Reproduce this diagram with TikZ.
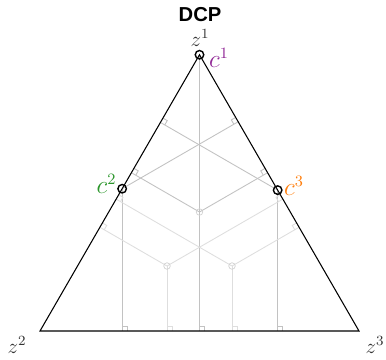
\documentclass[tikz,border=0pt]{standalone}
\usepackage{amsmath,amssymb}
\usepackage{fontspec}
\newfontfamily\headfont{Liberation Sans}
\usetikzlibrary{calc, angles}
\usepackage{xcolor}
\definecolor{cpurple}{RGB}{145,40,150}
\definecolor{cgreen}{RGB}{44,150,44}
\definecolor{corange}{RGB}{255,127,14}

\begin{document}
\begin{tikzpicture}[
  side/.style={draw=black, line width=0.6pt},
  proj/.style={draw=black!24, line width=0.5pt},
  projlight/.style={draw=black!13, line width=0.5pt},
  cpoint/.style={circle, draw=black, line width=0.8pt, inner sep=0pt, minimum size=1.7mm},
  gpoint/.style={circle, draw=black!18, line width=0.4pt, inner sep=0pt, minimum size=1.3mm},
  vlabel/.style={text=black!80, font=\large},
  clabel/.style={font=\fontsize{13.5}{15}\selectfont},
]
\useasboundingbox (-0.8,-0.56) rectangle (6.92,6.62);

\coordinate (z1) at (3.19,5.525);
\coordinate (z2) at (0,0);
\coordinate (z3) at (6.38,0);
\coordinate (c1) at (z1);
\coordinate (c2) at ($(z2)!0.515!(z1)$);
\coordinate (c3) at ($(z3)!0.51!(z1)$);
\coordinate (p0) at (3.19,2.38);
\coordinate (p1) at (2.54,1.30);
\coordinate (p2) at (3.84,1.30);

\foreach \p/\s in {c1/proj, c2/proj, c3/proj, p0/proj, p1/projlight, p2/projlight} {
  \coordinate (\p-b) at ($(z2)!(\p)!(z3)$);
  \draw[\s] (\p) -- (\p-b);
  \pic[\s, angle radius=1mm] {right angle = z3--\p-b--\p};
}
\foreach \p/\s in {c3/proj, p0/proj, p1/projlight, p2/projlight} {
  \coordinate (\p-l) at ($(z2)!(\p)!(z1)$);
  \draw[\s] (\p) -- (\p-l);
  \pic[\s, angle radius=1mm] {right angle = z1--\p-l--\p};
}
\foreach \p/\s in {c2/proj, p0/proj, p1/projlight, p2/projlight} {
  \coordinate (\p-r) at ($(z3)!(\p)!(z1)$);
  \draw[\s] (\p) -- (\p-r);
  \pic[\s, angle radius=1mm] {right angle = z1--\p-r--\p};
}

\draw[side] (z1) -- (z2) -- (z3) -- cycle;

\node[gpoint] (g0) at (p0) {};
\node[gpoint] (g1) at (p1) {};
\node[gpoint] (g2) at (p2) {};
\node[cpoint] (n1) at (c1) {};
\node[cpoint] (n2) at (c2) {};
\node[cpoint] (n3) at (c3) {};

\node[vlabel] (t1) at (3.2,5.86) {$z^1$};
\node[vlabel] (t2) at (-0.46,-0.28) {$z^2$};
\node[vlabel] (t3) at (6.7,-0.28) {$z^3$};
\node[clabel, text=cpurple] (l1) at (3.58,5.46) {$c^1$};
\node[clabel, text=cgreen] (l2) at (1.33,2.95) {$c^2$};
\node[clabel, text=corange] (l3) at (5.08,2.91) {$c^3$};
\node[font=\headfont\bfseries\fontsize{11.5}{13}\selectfont] (title) at (3.2,6.32) {DCP};

\end{tikzpicture}
\end{document}
